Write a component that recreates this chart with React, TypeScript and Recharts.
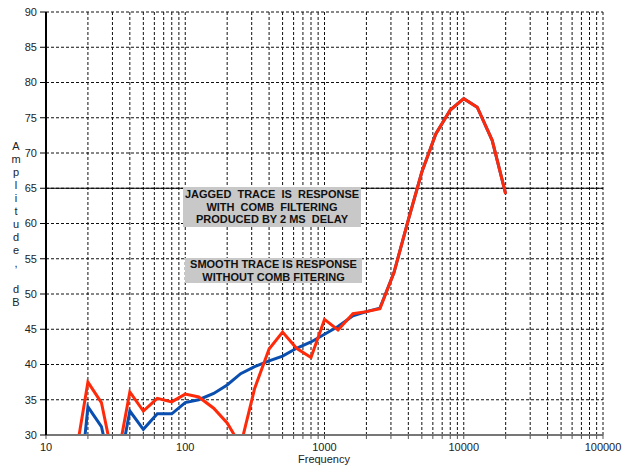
import React from "react";
import { LineChart, Line, XAxis, YAxis, CartesianGrid, ReferenceLine } from "recharts";

const frequencies = [16, 20, 25, 31.5, 40, 50, 63, 80, 100, 125, 160, 200, 250, 315, 400, 500, 630, 800, 1000, 1250, 1600, 2000, 2500, 3150, 4000, 5000, 6300, 8000, 10000, 12500, 16000, 20000];
const jaggedDb = [26, 37.5, 34.6, 25, 36.1, 33.4, 35.2, 34.7, 35.8, 35.4, 33.8, 31.7, 28.5, 36.6, 42.2, 44.6, 42.3, 41.0, 46.4, 44.9, 47.2, 47.5, 47.9, 53, 60.5, 67.3, 72.7, 76.1, 77.7, 76.5, 71.8, 64.2];
const smoothDb = [15, 34.0, 31.2, 22.5, 33.4, 30.8, 33.0, 33.0, 34.6, 35.0, 35.9, 37.1, 38.7, 39.7, 40.5, 41.2, 42.3, 43.2, 44.3, 45.4, 46.9, 47.5, 48.0, 53, 60.5, 67.3, 72.7, 76.1, 77.7, 76.5, 71.8, 64.2];

const xTicks = [10, 20, 30, 40, 50, 60, 70, 80, 90, 100, 200, 300, 400, 500, 600, 700, 800, 900, 1000, 2000, 3000, 4000, 5000, 6000, 7000, 8000, 9000, 10000, 20000, 30000, 40000, 50000, 60000, 70000, 80000, 90000, 100000];
const decadeLabels = [10, 100, 1000, 10000, 100000];
const yTicks = [30, 35, 40, 45, 50, 55, 60, 65, 70, 75, 80, 85, 90];
const yLabel = "Amplitude, dB";
const note1 = ["JAGGED  TRACE  IS  RESPONSE", "WITH  COMB  FILTERING", "PRODUCED BY 2 MS  DELAY"];
const note2 = ["SMOOTH TRACE IS RESPONSE", "WITHOUT COMB FITERING"];

const data = frequencies.map((f, i) => ({ f, jagged: jaggedDb[i], smooth: smoothDb[i] }));

const font = "'Liberation Sans', Arial, sans-serif";

export default function App() {
  return (
    <div style={{ position: "absolute", left: 0, top: 0, width: 633, height: 468, background: "#fff", fontFamily: font }}>
      <LineChart width={633} height={468} data={data} margin={{ top: 12, right: 30, left: 0, bottom: 13 }}>
        <CartesianGrid stroke="#111" strokeDasharray="3 2" strokeWidth={1} />
        <XAxis
          dataKey="f"
          type="number"
          scale="log"
          domain={[10, 100000]}
          ticks={xTicks}
          interval={0}
          allowDataOverflow
          height={20}
          tickSize={4}
          tickMargin={4}
          tickFormatter={(v: number) => (decadeLabels.includes(v) ? String(v) : "")}
          tick={{ fontSize: 11, fill: "#222", fontFamily: font }}
          axisLine={{ stroke: "#777", strokeWidth: 2 }}
          tickLine={{ stroke: "#555" }}
        />
        <YAxis
          type="number"
          domain={[30, 90]}
          ticks={yTicks}
          interval={0}
          allowDataOverflow
          width={46}
          tickSize={6}
          tickMargin={3}
          tick={{ fontSize: 11, fill: "#222", fontFamily: font }}
          axisLine={{ stroke: "#000", strokeWidth: 2 }}
          tickLine={{ stroke: "#000" }}
        />
        <ReferenceLine y={65} stroke="#000" strokeWidth={1.2} />
        <Line type="linear" dataKey="smooth" stroke="#0a4fb0" strokeWidth={3} dot={false} isAnimationActive={false} />
        <Line type="linear" dataKey="jagged" stroke="#ff2a0a" strokeWidth={3} dot={false} isAnimationActive={false} />
      </LineChart>

      <div style={{ position: "absolute", left: 183, top: 187, width: 178, height: 40, background: "#c8c8c8", display: "flex", flexDirection: "column", justifyContent: "center", alignItems: "center", fontWeight: "bold", fontSize: 11, lineHeight: "12.6px", color: "#111", whiteSpace: "pre" }}>
        {note1.map((t) => (<div key={t}>{t}</div>))}
      </div>
      <div style={{ position: "absolute", left: 185, top: 258, width: 177, height: 25, background: "#c8c8c8", display: "flex", flexDirection: "column", justifyContent: "center", alignItems: "center", fontWeight: "bold", fontSize: 11, lineHeight: "13px", color: "#111", whiteSpace: "pre" }}>
        {note2.map((t) => (<div key={t}>{t}</div>))}
      </div>

      <div style={{ position: "absolute", left: 9, top: 140, width: 14, textAlign: "center", fontSize: 11, lineHeight: "13px", color: "#222" }}>
        {yLabel.split("").map((c, i) => (<div key={i} style={{ height: 13 }}>{c === " " ? "\u00a0" : c}</div>))}
      </div>
      <div style={{ position: "absolute", left: 274, top: 453, width: 100, textAlign: "center", fontSize: 11, lineHeight: "13px", color: "#222" }}>
        Frequency
      </div>
    </div>
  );
}
